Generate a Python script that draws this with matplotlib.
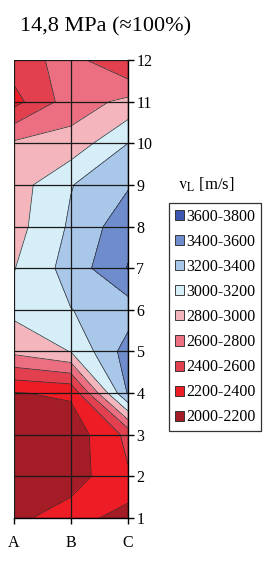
import matplotlib
matplotlib.use("Agg")
import matplotlib.pyplot as plt
from matplotlib.patches import Patch
import numpy as np

# ---- data ----
columns = ["A", "B", "C"]
rows = [1, 2, 3, 4, 5, 6, 7, 8, 9, 10, 11, 12]
vA = [2150, 2100, 2100, 2190, 2850, 3050, 2990, 2920, 2900, 2830, 2330, 2500]
vB = [2300, 2100, 2080, 2230, 3005, 3195, 3280, 3230, 3190, 2870, 2700, 2680]
vC = [2100, 2380, 2450, 3420, 3490, 3300, 3610, 3530, 3380, 3200, 2850, 2390]
levels = [2000, 2200, 2400, 2600, 2800, 3000, 3200, 3400, 3600, 3800]
title = "14,8 MPa (\u2248100%)"

colors = ["#a31c26", "#ee1c25", "#e2404e", "#eb6f80", "#f4b5bd",
          "#d6eef8", "#a9c8e9", "#6f8dcd", "#3c56b1"]

plt.rcParams["font.family"] = ["Liberation Serif", "DejaVu Serif"]
plt.rcParams["mathtext.fontset"] = "stix"

fig = plt.figure(figsize=(2.69, 5.85), dpi=100)
ax = fig.add_axes([13.5 / 269, 1 - 518 / 585, (128 - 13.5) / 269, (518 - 60) / 585])

x = np.arange(len(columns))
y = np.array(rows)
Z = np.column_stack([vA, vB, vC])

ax.contourf(x, y, Z, levels=levels, colors=colors)
ax.contour(x, y, Z, levels=levels, colors="#2a2a2a", linewidths=0.5)

ax.set_xlim(0, 2)
ax.set_ylim(1, 12)
ax.set_xticks(x)
ax.set_xticklabels(columns, fontsize=11.5)
ax.set_yticks(rows)
ax.set_yticklabels([str(r) for r in rows], fontsize=11.5)
ax.yaxis.tick_right()
ax.tick_params(axis="y", direction="out", length=4, width=1, pad=2, colors="black")
ax.tick_params(axis="x", direction="out", length=4, width=1, pad=8)
ax.set_axisbelow(False)
ax.grid(True, color="#1a1a1a", linewidth=0.9)
for s in ["left", "top"]:
    ax.spines[s].set_linewidth(0.6)
    ax.spines[s].set_color("#555555")
for s in ["right", "bottom"]:
    ax.spines[s].set_linewidth(1.0)

fig.text(20 / 269, 1 - 27 / 585, title, fontsize=16, ha="left", va="center")
fig.text(178 / 269, 1 - 185 / 585, r"$\mathrm{v_L}$ [m/s]", fontsize=12, ha="left", va="center")

labels = [f"{levels[i]}-{levels[i+1]}" for i in range(len(colors))]
handles = [Patch(facecolor=c, edgecolor="#222222", linewidth=0.6) for c in colors]
leg = fig.legend(handles[::-1], labels[::-1], loc="upper left",
                 bbox_to_anchor=(169 / 269, 1 - 203 / 585), bbox_transform=fig.transFigure,
                 fontsize=11.5, frameon=True, fancybox=False, edgecolor="black",
                 handlelength=0.6, handleheight=0.6, handletextpad=0.1,
                 labelspacing=0.57, borderpad=0.35, borderaxespad=0)
leg.get_frame().set_linewidth(0.9)

fig.savefig("out.png", dpi=100)
